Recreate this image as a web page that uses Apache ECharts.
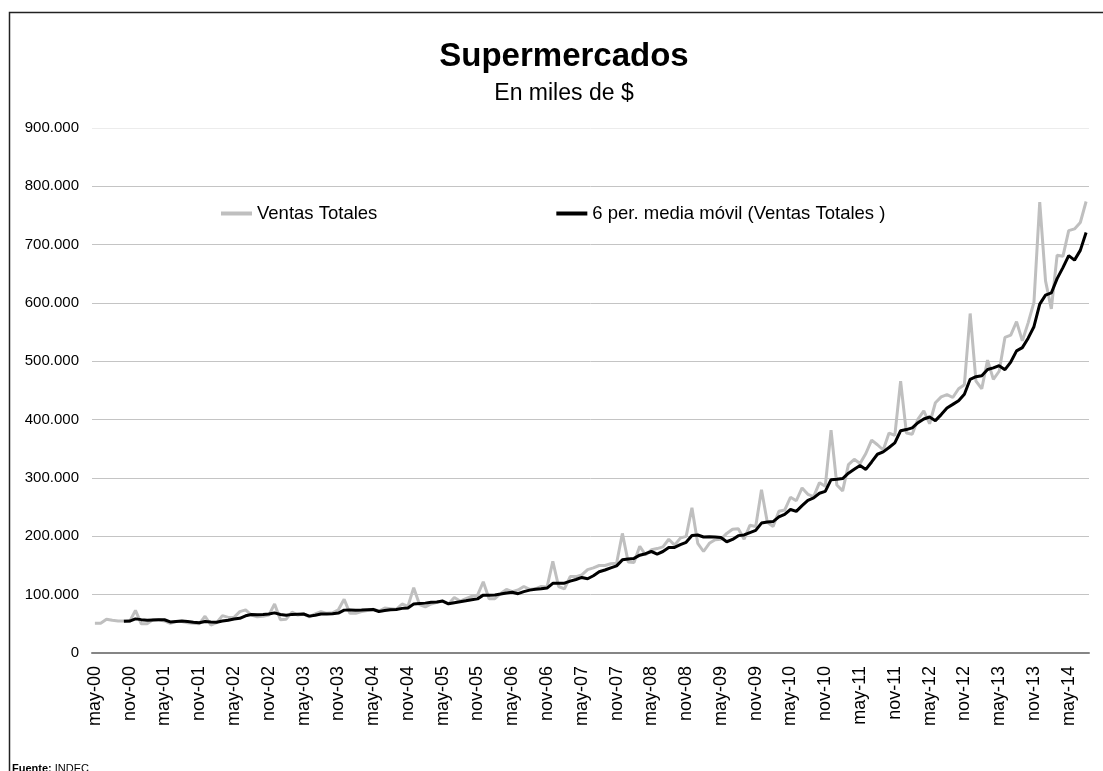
<!DOCTYPE html>
<html>
<head>
<meta charset="utf-8">
<script src="https://cdn.jsdelivr.net/npm/echarts@6/dist/echarts.min.js"></script>
<style>
  html, body { margin: 0; padding: 0; background: #fff; }
  #chart { width: 1103px; height: 771px; }
</style>
</head>
<body>
<div id="chart"></div>
<script>
// Spanish month abbreviations, series runs may-00 .. ago-14
const MONTHS = ['ene', 'feb', 'mar', 'abr', 'may', 'jun', 'jul', 'ago', 'sep', 'oct', 'nov', 'dic']
const START_YEAR = 2000
const START_MONTH = 4
const N_MONTHS = 172

// Ventas Totales, in thousands of the axis unit (miles de $)
const ventas = [
  51, 51, 58, 56, 55, 55, 54, 73, 50, 50, 57, 57,
  55, 51, 54, 54, 52, 51, 50, 63, 48, 52, 64, 61,
  61, 71, 74, 65, 62, 63, 65, 84, 57, 58, 70, 65,
  67, 62, 67, 71, 68, 69, 74, 92, 68, 68, 71, 73,
  75, 72, 77, 76, 75, 84, 80, 112, 83, 79, 84, 87,
  89, 84, 95, 89, 93, 97, 99, 122, 93, 93, 102, 109,
  105, 108, 114, 109, 110, 114, 113, 157, 114, 110, 131, 131,
  134, 143, 146, 150, 150, 153, 154, 205, 156, 155, 183, 168,
  177, 179, 182, 195, 185, 197, 200, 249, 188, 174, 188, 194,
  195, 205, 212, 213, 195, 219, 217, 280, 224, 217, 243, 245,
  267, 261, 283, 272, 268, 292, 286, 382, 288, 278, 323, 332,
  325, 342, 365, 357, 348, 377, 373, 466, 377, 375, 401, 415,
  393, 429, 439, 443, 438, 453, 460, 582, 466, 453, 502, 469,
  483, 541, 545, 568, 535, 566, 601, 773, 638, 590, 682, 680,
  724, 727, 738, 774
]

// 6 per. media móvil (starts at the 6th month)
const mediaMovil = [
  null, null, null, null, null, 54.3, 54.8, 58.5, 57.2, 56.2, 56.5, 56.8,
  57.0, 53.3, 54.0, 54.7, 53.8, 52.8, 52.0, 54.0, 53.0, 52.7, 54.7, 56.3,
  58.2, 59.5, 63.8, 66.0, 65.7, 66.0, 66.7, 68.8, 66.0, 64.8, 66.2, 66.5,
  66.8, 63.2, 64.8, 67.0, 66.7, 67.3, 68.5, 73.5, 73.7, 73.2, 73.7, 74.3,
  74.5, 71.2, 72.7, 74.0, 74.7, 76.5, 77.3, 84.0, 85.0, 85.5, 87.0, 87.5,
  89.0, 84.3, 86.3, 88.0, 89.5, 91.2, 92.8, 99.2, 98.8, 99.5, 101.0, 103.0,
  104.0, 101.7, 105.2, 107.8, 109.2, 110.0, 111.3, 119.5, 119.5, 119.7, 123.2, 126.0,
  129.5, 127.2, 132.5, 139.2, 142.3, 146.0, 149.3, 159.7, 161.3, 162.2, 167.7, 170.2,
  174.0, 169.7, 174.0, 180.7, 181.0, 185.8, 189.7, 201.3, 202.3, 198.8, 199.3, 198.8,
  198.0, 190.7, 194.7, 201.2, 202.3, 206.5, 210.2, 222.7, 224.7, 225.3, 233.3, 237.7,
  246.0, 242.8, 252.7, 261.8, 266.0, 273.8, 277.0, 297.2, 298.0, 299.0, 308.2, 314.8,
  321.3, 314.7, 327.5, 340.7, 344.8, 352.3, 360.3, 381.0, 383.0, 386.0, 394.8, 401.2,
  404.5, 398.3, 408.7, 420.0, 426.2, 432.5, 443.7, 469.2, 473.7, 475.3, 486.0, 488.7,
  492.5, 485.7, 498.8, 518.0, 523.5, 539.7, 559.3, 598.0, 613.5, 617.2, 641.7, 660.7,
  681.2, 673.5, 690.2, 720.8
]

const categories = []
for (let i = 0; i < N_MONTHS; i++) {
  const m = START_MONTH + i
  const yy = START_YEAR + Math.floor(m / 12)
  categories.push(MONTHS[m % 12] + '-' + String(yy % 100).padStart(2, '0'))
}

const FONT = 'Liberation Sans, Arial, sans-serif'
const NAME_VENTAS = 'Ventas Totales'
const NAME_MEDIA = '6 per. media móvil (Ventas Totales )'

const chart = echarts.init(document.getElementById('chart'), null, { renderer: 'canvas' })

// grid line colours: the top (900.000) line is fainter, as in the original
const gridColors = ['#c4c4c4', '#c4c4c4', '#c4c4c4', '#c4c4c4', '#c4c4c4',
  '#c4c4c4', '#c4c4c4', '#c4c4c4', '#c4c4c4', '#ececec']

const option = {
  animation: false,
  backgroundColor: '#fff',
  textStyle: { fontFamily: FONT },
  title: {
    text: 'Supermercados',
    subtext: 'En miles de $',
    left: 564,
    textAlign: 'center',
    top: 40,
    padding: 0,
    itemGap: 9,
    textStyle: { fontSize: 33, fontWeight: 'bold', color: '#000', fontFamily: FONT },
    subtextStyle: { fontSize: 23, color: '#000', fontFamily: FONT }
  },
  legend: {
    data: [NAME_VENTAS, NAME_MEDIA],
    left: 221,
    top: 204,
    padding: 0,
    icon: 'rect',
    itemWidth: 31,
    itemHeight: 4,
    itemGap: 179,
    textStyle: { fontSize: 18.5, color: '#000', fontFamily: FONT }
  },
  grid: {
    left: 92,
    right: 14,
    top: 128,
    bottom: 118,
    containLabel: false,
    outerBoundsMode: 'none'
  },
  xAxis: {
    type: 'category',
    data: categories,
    boundaryGap: true,
    axisLine: { lineStyle: { color: '#858585', width: 2 } },
    axisTick: { interval: 5, length: 6, lineStyle: { color: '#858585', width: 1.5 } },
    axisLabel: {
      interval: 5,
      rotate: 90,
      margin: 13,
      fontSize: 18,
      color: '#000',
      fontFamily: FONT
    },
    splitLine: { show: false }
  },
  yAxis: {
    type: 'value',
    min: 0,
    max: 900,
    interval: 100,
    axisLine: { show: false },
    axisTick: { show: false },
    axisLabel: {
      margin: 13,
      fontSize: 15,
      color: '#000',
      fontFamily: FONT,
      formatter: v => (v === 0 ? '0' : v + '.000')
    },
    splitLine: { lineStyle: { color: gridColors, width: 1 } }
  },
  series: [
    {
      name: NAME_VENTAS,
      type: 'line',
      data: ventas,
      symbol: 'none',
      lineStyle: { color: '#bfbfbf', width: 3 },
      itemStyle: { color: '#bfbfbf' }
    },
    {
      name: NAME_MEDIA,
      type: 'line',
      data: mediaMovil,
      symbol: 'none',
      lineStyle: { color: '#000', width: 3 },
      itemStyle: { color: '#000' }
    }
  ],
  graphic: [
    {
      type: 'rect',
      left: 7,
      top: 10,
      shape: { width: 1200, height: 900 },
      style: { fill: null, stroke: '#222', lineWidth: 1.5 },
      silent: true
    },
    {
      type: 'text',
      left: 12,
      top: 763,
      style: {
        text: '{b|Fuente:} INDEC',
        fontSize: 11,
        fill: '#000',
        fontFamily: FONT,
        rich: { b: { fontWeight: 'bold', fontSize: 11, fontFamily: FONT } }
      }
    }
  ]
}

chart.setOption(option)
</script>
</body>
</html>
